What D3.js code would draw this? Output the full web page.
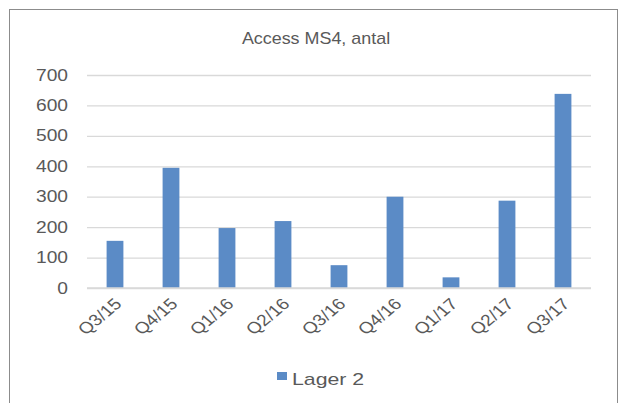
<!DOCTYPE html>
<html>
<head>
<meta charset="utf-8">
<script src="https://cdn.jsdelivr.net/npm/d3@7"></script>
<style>
  body { margin: 0; background: #fff; }
  svg { display: block; }
</style>
</head>
<body>
<svg id="chart"></svg>
<script>
// data
var categories = ["Q3/15", "Q4/15", "Q1/16", "Q2/16", "Q3/16", "Q4/16", "Q1/17", "Q2/17", "Q3/17"]
var values = [155, 395, 197, 220, 75, 300, 35, 287, 638]
var yTicks = [0, 100, 200, 300, 400, 500, 600, 700]
var seriesName = "Lager 2"
var chartTitle = "Access MS4, antal"

var W = 623, H = 403
var margin = { top: 75, right: 32, bottom: 115, left: 87 },
    width = W - margin.left - margin.right,
    height = H - margin.top - margin.bottom;
var stretch = 1.2 // the reference looks horizontally stretched
var font = "'Liberation Sans', Arial, sans-serif"

var svg = d3.select("#chart").attr("width", W).attr("height", H)

// outer frame
svg.append("rect").attr("x", 9.5).attr("y", 9.5).attr("width", 608).attr("height", 400)
    .attr("fill", "none").attr("stroke", "#8c8c8c").attr("stroke-width", 1)

svg.append("text").attr("text-anchor", "middle")
    .attr("transform", "translate(316,44) scale(1.12,1)")
    .style("font-family", font).style("font-size", "16px")
    .attr("fill", "#595959").text(chartTitle)

var g = svg.append("g").attr("transform", "translate(" + margin.left + "," + margin.top + ")")

var xScale = d3.scaleBand().domain(categories).range([0, width]).paddingInner(0.7).paddingOuter(0.35)
var yScale = d3.scaleLinear().domain([0, 700]).range([height, 0])

// Y axis with gridlines
g.append("g").attr("class", "yaxis")
    .call(d3.axisLeft(yScale).tickValues(yTicks).tickSize(-width).tickPadding(0))
    .call(a => a.select(".domain").remove())
    .call(a => a.selectAll(".tick line").attr("stroke", "#d9d9d9").attr("stroke-width", 1.3))
    .call(a => a.selectAll(".tick text").attr("fill", "#595959").attr("x", null)
        .attr("transform", "translate(-19,0) scale(" + stretch + ",1)")
        .style("font-family", font).style("font-size", "16px"))

// bars
g.selectAll(".bar").data(values).join("rect").attr("class", "bar")
    .attr("x", (d, i) => xScale(categories[i]))
    .attr("y", d => yScale(d))
    .attr("width", xScale.bandwidth())
    .attr("height", d => height - yScale(d))
    .attr("fill", "#5b8bc6")

// X axis line
g.append("line").attr("x1", 0).attr("x2", width).attr("y1", height).attr("y2", height)
    .attr("stroke", "#d9d9d9").attr("stroke-width", 1.5)

// X labels rotated
g.selectAll(".xlab").data(categories).join("text").attr("class", "xlab")
    .attr("transform", d => "translate(" + (xScale(d) + xScale.bandwidth() / 2 + 3) + "," + (height + 13) + ") scale(" + stretch + ",1) rotate(-45)")
    .attr("text-anchor", "end")
    .attr("dy", "0.35em")
    .attr("fill", "#595959")
    .style("font-family", font).style("font-size", "16px")
    .text(d => d)

// legend
var lg = svg.append("g").attr("transform", "translate(277,372)")
lg.append("rect").attr("width", 10).attr("height", 8).attr("fill", "#5b8bc6")
lg.append("text").attr("transform", "translate(15,13) scale(1.25,1)").attr("fill", "#595959")
    .style("font-family", font).style("font-size", "17px")
    .text(seriesName)
</script>
</body>
</html>
